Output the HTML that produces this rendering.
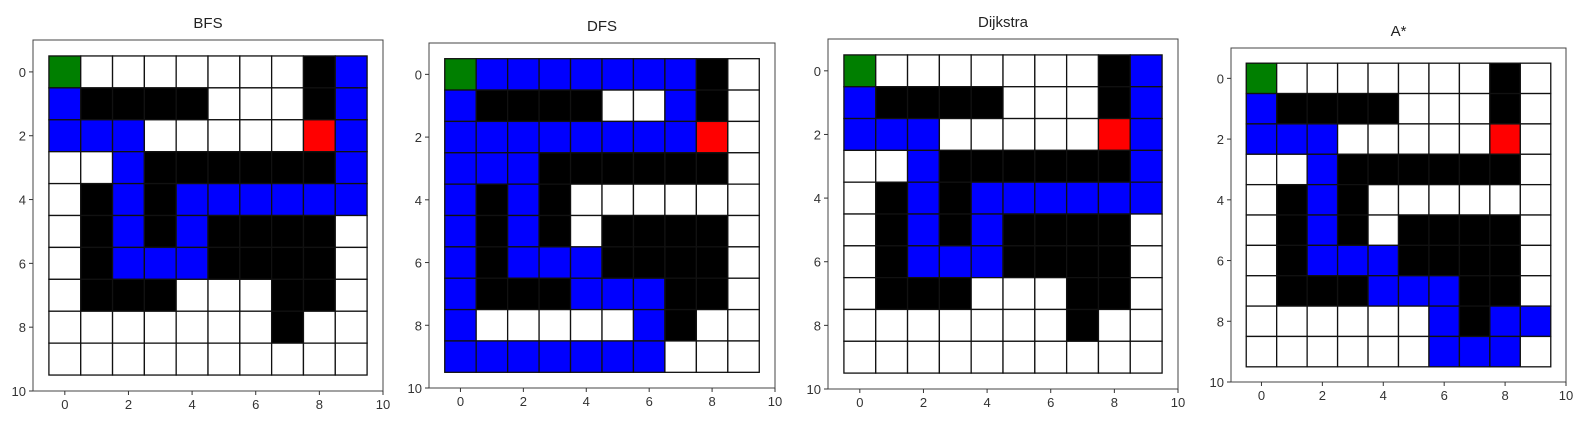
<!DOCTYPE html>
<html><head><meta charset="utf-8"><style>
body{margin:0;background:#fff;}
svg{display:block;font-family:"Liberation Sans","DejaVu Sans",sans-serif;}
</style></head><body>
<svg id="fig" width="1596" height="427"></svg>
<script>
const titles=["BFS","DFS","Dijkstra","A*"];
const walls=[[0,8],[1,1],[1,2],[1,3],[1,4],[1,8],[3,3],[3,4],[3,5],[3,6],[3,7],[3,8],[4,1],[4,3],[5,1],[5,3],[5,5],[5,6],[5,7],[5,8],[6,1],[6,5],[6,6],[6,7],[6,8],[7,1],[7,2],[7,3],[7,7],[7,8],[8,7]];
const startCell=[0,0];
const goalCell=[2,8];
const pathBFS=[[1,0],[2,0],[2,1],[2,2],[3,2],[4,2],[5,2],[6,2],[6,3],[6,4],[5,4],[4,4],[4,5],[4,6],[4,7],[4,8],[4,9],[3,9],[2,9],[1,9],[0,9]];
const pathDFS=[[0,1],[0,2],[0,3],[0,4],[0,5],[0,6],[0,7],[1,0],[1,7],[2,0],[2,1],[2,2],[2,3],[2,4],[2,5],[2,6],[2,7],[3,0],[3,1],[3,2],[4,0],[4,2],[5,0],[5,2],[6,0],[6,2],[6,3],[6,4],[7,0],[7,4],[7,5],[7,6],[8,0],[8,6],[9,0],[9,1],[9,2],[9,3],[9,4],[9,5],[9,6]];
const pathDijkstra=[[1,0],[2,0],[2,1],[2,2],[3,2],[4,2],[5,2],[6,2],[6,3],[6,4],[5,4],[4,4],[4,5],[4,6],[4,7],[4,8],[4,9],[3,9],[2,9],[1,9],[0,9]];
const pathAstar=[[1,0],[2,0],[2,1],[2,2],[3,2],[4,2],[5,2],[6,2],[6,3],[6,4],[7,4],[7,5],[7,6],[8,6],[9,6],[9,7],[9,8],[8,8],[8,9]];
const paths=[pathBFS,pathDFS,pathDijkstra,pathAstar];
const ticks=[0,2,4,6,8,10];
const boxes=[[33,40,383,391],[429,43,775,388],[828,39,1178,389],[1231,48,1566,382]];
const NS="http://www.w3.org/2000/svg";
const fig=document.getElementById('fig');
function mk(tag,attrs,parent){const e=document.createElementNS(NS,tag);for(const k in attrs)e.setAttribute(k,attrs[k]);parent.appendChild(e);return e;}
titles.forEach((t,p)=>{
  const [L,T,R,B]=boxes[p];
  const sx=v=>L+(v+1)/11*(R-L);
  const sy=v=>T+(v+1)/11*(B-T);
  const g=mk('g',{},fig);
  
  
  const ti=mk('text',{x:(L+R)/2,y:T-12,'text-anchor':'middle','font-size':15,fill:'#222'},g);ti.textContent=t;
  
  
  const grid=[];for(let r=0;r<10;r++){grid.push(Array(10).fill('#fff'));}
  walls.forEach(([r,c])=>grid[r][c]='#000');
  paths[p].forEach(([r,c])=>grid[r][c]='#0000ff');
  grid[startCell[0]][startCell[1]]='#007f00';
  grid[goalCell[0]][goalCell[1]]='#ff0000';
  for(let r=0;r<10;r++)for(let c=0;c<10;c++){
    const x0=sx(c-0.5),x1=sx(c+0.5),y0=sy(r-0.5),y1=sy(r+0.5);
    const cell=mk('rect',{x:x0,y:y0,width:x1-x0,height:y1-y0,fill:grid[r][c],stroke:'#111','stroke-width':1.3},g);
    
    
  }
  const fr=mk('rect',{x:L,y:T,width:R-L,height:B-T,fill:'none',stroke:'#444','stroke-width':1},g);
  
  
  ticks.forEach(v=>{
    mk('line',{x1:sx(v),x2:sx(v),y1:B,y2:B+4,stroke:'#333'},g);
    const tx=mk('text',{x:sx(v),y:B+18,'text-anchor':'middle','font-size':13,fill:'#333'},g);tx.textContent=v;
    
    
    mk('line',{x1:L-4,x2:L,y1:sy(v),y2:sy(v),stroke:'#333'},g);
    const ty=mk('text',{x:L-7,y:sy(v)+5,'text-anchor':'end','font-size':13,fill:'#333'},g);ty.textContent=v;
    
    
  });
});
</script>
</body></html>
